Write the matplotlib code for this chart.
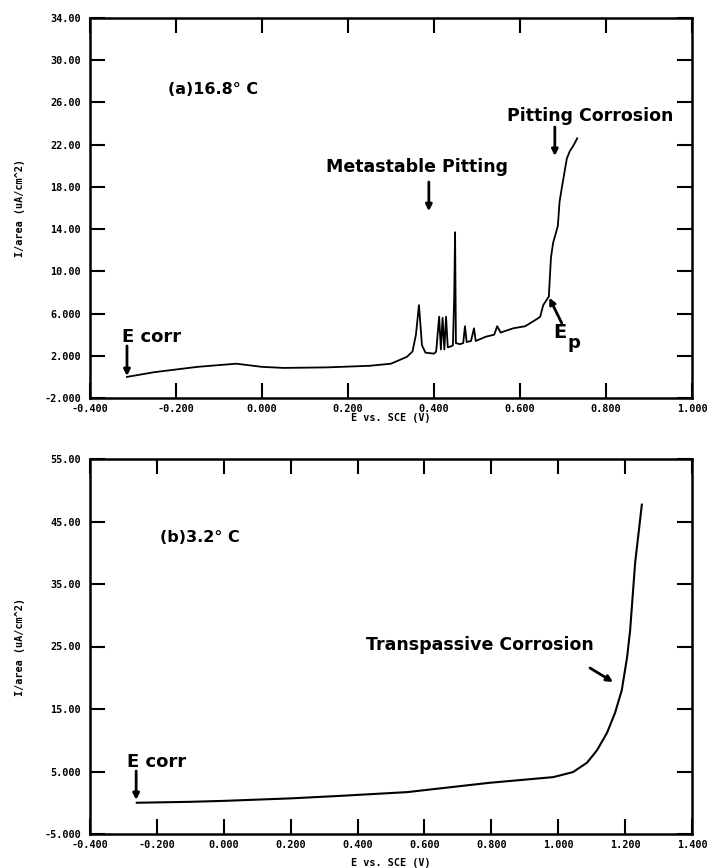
import matplotlib
matplotlib.use("Agg")
import matplotlib.pyplot as plt

# ---- data (a) 16.8 C ----
e_a = [-0.314, -0.25, -0.15, -0.06, 0.0, 0.05, 0.15, 0.25, 0.30, 0.337, 0.35, 0.358,
       0.365, 0.372, 0.38, 0.40, 0.405, 0.412, 0.416, 0.42, 0.424, 0.428, 0.432, 0.44,
       0.444, 0.447, 0.449, 0.451, 0.46, 0.468, 0.472, 0.476, 0.486, 0.493, 0.497,
       0.52, 0.54, 0.547, 0.555, 0.584, 0.612, 0.64, 0.647, 0.654, 0.667, 0.672,
       0.677, 0.688, 0.692, 0.698, 0.709, 0.716, 0.724, 0.733]
i_a = [0.0, 0.45, 0.95, 1.25, 0.95, 0.85, 0.9, 1.05, 1.25, 1.9, 2.4, 4.0,
       6.8, 3.0, 2.3, 2.2, 2.4, 5.7, 2.6, 5.6, 2.6, 5.7, 2.8, 2.9,
       3.0, 7.6, 13.7, 3.2, 3.1, 3.2, 4.8, 3.3, 3.4, 4.6, 3.4,
       3.8, 4.0, 4.8, 4.2, 4.6, 4.8, 5.5, 5.7, 6.8, 7.6, 11.3,
       12.7, 14.3, 16.6, 18.1, 20.7, 21.4, 21.9, 22.6]

# ---- data (b) 3.2 C ----
e_b = [-0.26, -0.1, 0.0, 0.2, 0.348, 0.548, 0.796, 0.985, 1.044, 1.086, 1.116,
       1.146, 1.17, 1.19, 1.206, 1.215, 1.23, 1.25]
i_b = [0.0, 0.15, 0.3, 0.7, 1.1, 1.7, 3.2, 4.1, 4.9, 6.4, 8.4,
       11.2, 14.4, 18.0, 23.3, 27.6, 38.4, 47.7]

xt_a = [-0.4, -0.2, 0.0, 0.2, 0.4, 0.6, 0.8, 1.0]
xl_a = ["-0.400", "-0.200", "0.000", "0.200", "0.400", "0.600", "0.800", "1.000"]
yt_a = [-2, 2, 6, 10, 14, 18, 22, 26, 30, 34]
yl_a = ["-2.000", "2.000", "6.000", "10.00", "14.00", "18.00", "22.00", "26.00", "30.00", "34.00"]

xt_b = [-0.4, -0.2, 0.0, 0.2, 0.4, 0.6, 0.8, 1.0, 1.2, 1.4]
xl_b = ["-0.400", "-0.200", "0.000", "0.200", "0.400", "0.600", "0.800", "1.000", "1.200", "1.400"]
yt_b = [-5, 5, 15, 25, 35, 45, 55]
yl_b = ["-5.000", "5.000", "15.00", "25.00", "35.00", "45.00", "55.00"]

W, H = 709, 868
fig = plt.figure(figsize=(W / 100, H / 100), dpi=100)

def px_axes(l, t, r, b):
    return fig.add_axes([l / W, 1 - b / H, (r - l) / W, (b - t) / H])

ax1 = px_axes(90, 18, 692, 398)
ax2 = px_axes(90, 459, 692, 834)

tickfont = dict(family="DejaVu Sans Mono", weight="bold", size=7.3)
textfont = dict(family="DejaVu Sans", weight="bold")

def style(ax, xt, xl, yt, yl, xlim, ylim, xlab_y):
    ax.set_xlim(*xlim)
    ax.set_ylim(*ylim)
    ax.set_xticks(xt)
    ax.set_xticklabels(xl, fontdict=tickfont)
    ax.set_yticks(yt)
    ax.set_yticklabels(yl, fontdict=tickfont)
    ax.tick_params(direction="in", length=10.8, width=1.5, top=True, right=True,
                   pad=4, colors="k")
    ax.tick_params(axis="y", pad=6.5)
    for s in ax.spines.values():
        s.set_linewidth(1.8)
    ax.set_xlabel("E vs. SCE (V)", fontdict=tickfont)
    ax.set_ylabel("I/area (uA/cm^2)", fontdict=tickfont)
    ax.xaxis.set_label_coords(0.5, xlab_y)
    ax.yaxis.set_label_coords(-0.108, 0.5)

style(ax1, xt_a, xl_a, yt_a, yl_a, (-0.4, 1.0), (-2, 34), -0.040)
style(ax2, xt_b, xl_b, yt_b, yl_b, (-0.4, 1.4), (-5, 55), -0.064)

ax1.plot(e_a, i_a, color="k", lw=1.3)
ax2.plot(e_b, i_b, color="k", lw=1.5)

arrow = dict(arrowstyle="-|>", lw=2.0, color="k", mutation_scale=9, shrinkA=0, shrinkB=0)

# annotations (a)
ax1.text(-0.219, 27.2, "(a)16.8° C", ha="left", va="center", fontsize=11.5, **textfont)
ax1.text(0.360, 19.9, "Metastable Pitting", ha="center", va="center", fontsize=12.5, **textfont)
ax1.annotate("", xy=(0.388, 15.7), xytext=(0.388, 18.46), arrowprops=arrow)
ax1.text(0.763, 24.7, "Pitting Corrosion", ha="center", va="center", fontsize=12.5, **textfont)
ax1.annotate("", xy=(0.681, 20.93), xytext=(0.681, 23.67), arrowprops=arrow)
ax1.text(-0.325, 3.78, "E corr", ha="left", va="center", fontsize=13, **textfont)
ax1.annotate("", xy=(-0.314, 0.08), xytext=(-0.314, 2.93), arrowprops=arrow)
ax1.text(0.677, 4.16, "E", ha="left", va="center", fontsize=14, **textfont)
ax1.text(0.710, 3.2, "p", ha="left", va="center", fontsize=13, **textfont)
ax1.annotate("", xy=(0.668, 7.5), xytext=(0.697, 5.1), arrowprops=arrow)

# annotations (b)
ax2.text(-0.191, 42.36, "(b)3.2° C", ha="left", va="center", fontsize=11.5, **textfont)
ax2.text(0.766, 25.24, "Transpassive Corrosion", ha="center", va="center", fontsize=12.5, **textfont)
ax2.annotate("", xy=(1.164, 19.32), xytext=(1.095, 21.56), arrowprops=arrow)
ax2.text(-0.288, 6.52, "E corr", ha="left", va="center", fontsize=13, **textfont)
ax2.annotate("", xy=(-0.262, 0.44), xytext=(-0.262, 5.08), arrowprops=arrow)

fig.savefig("out.png", dpi=100)
